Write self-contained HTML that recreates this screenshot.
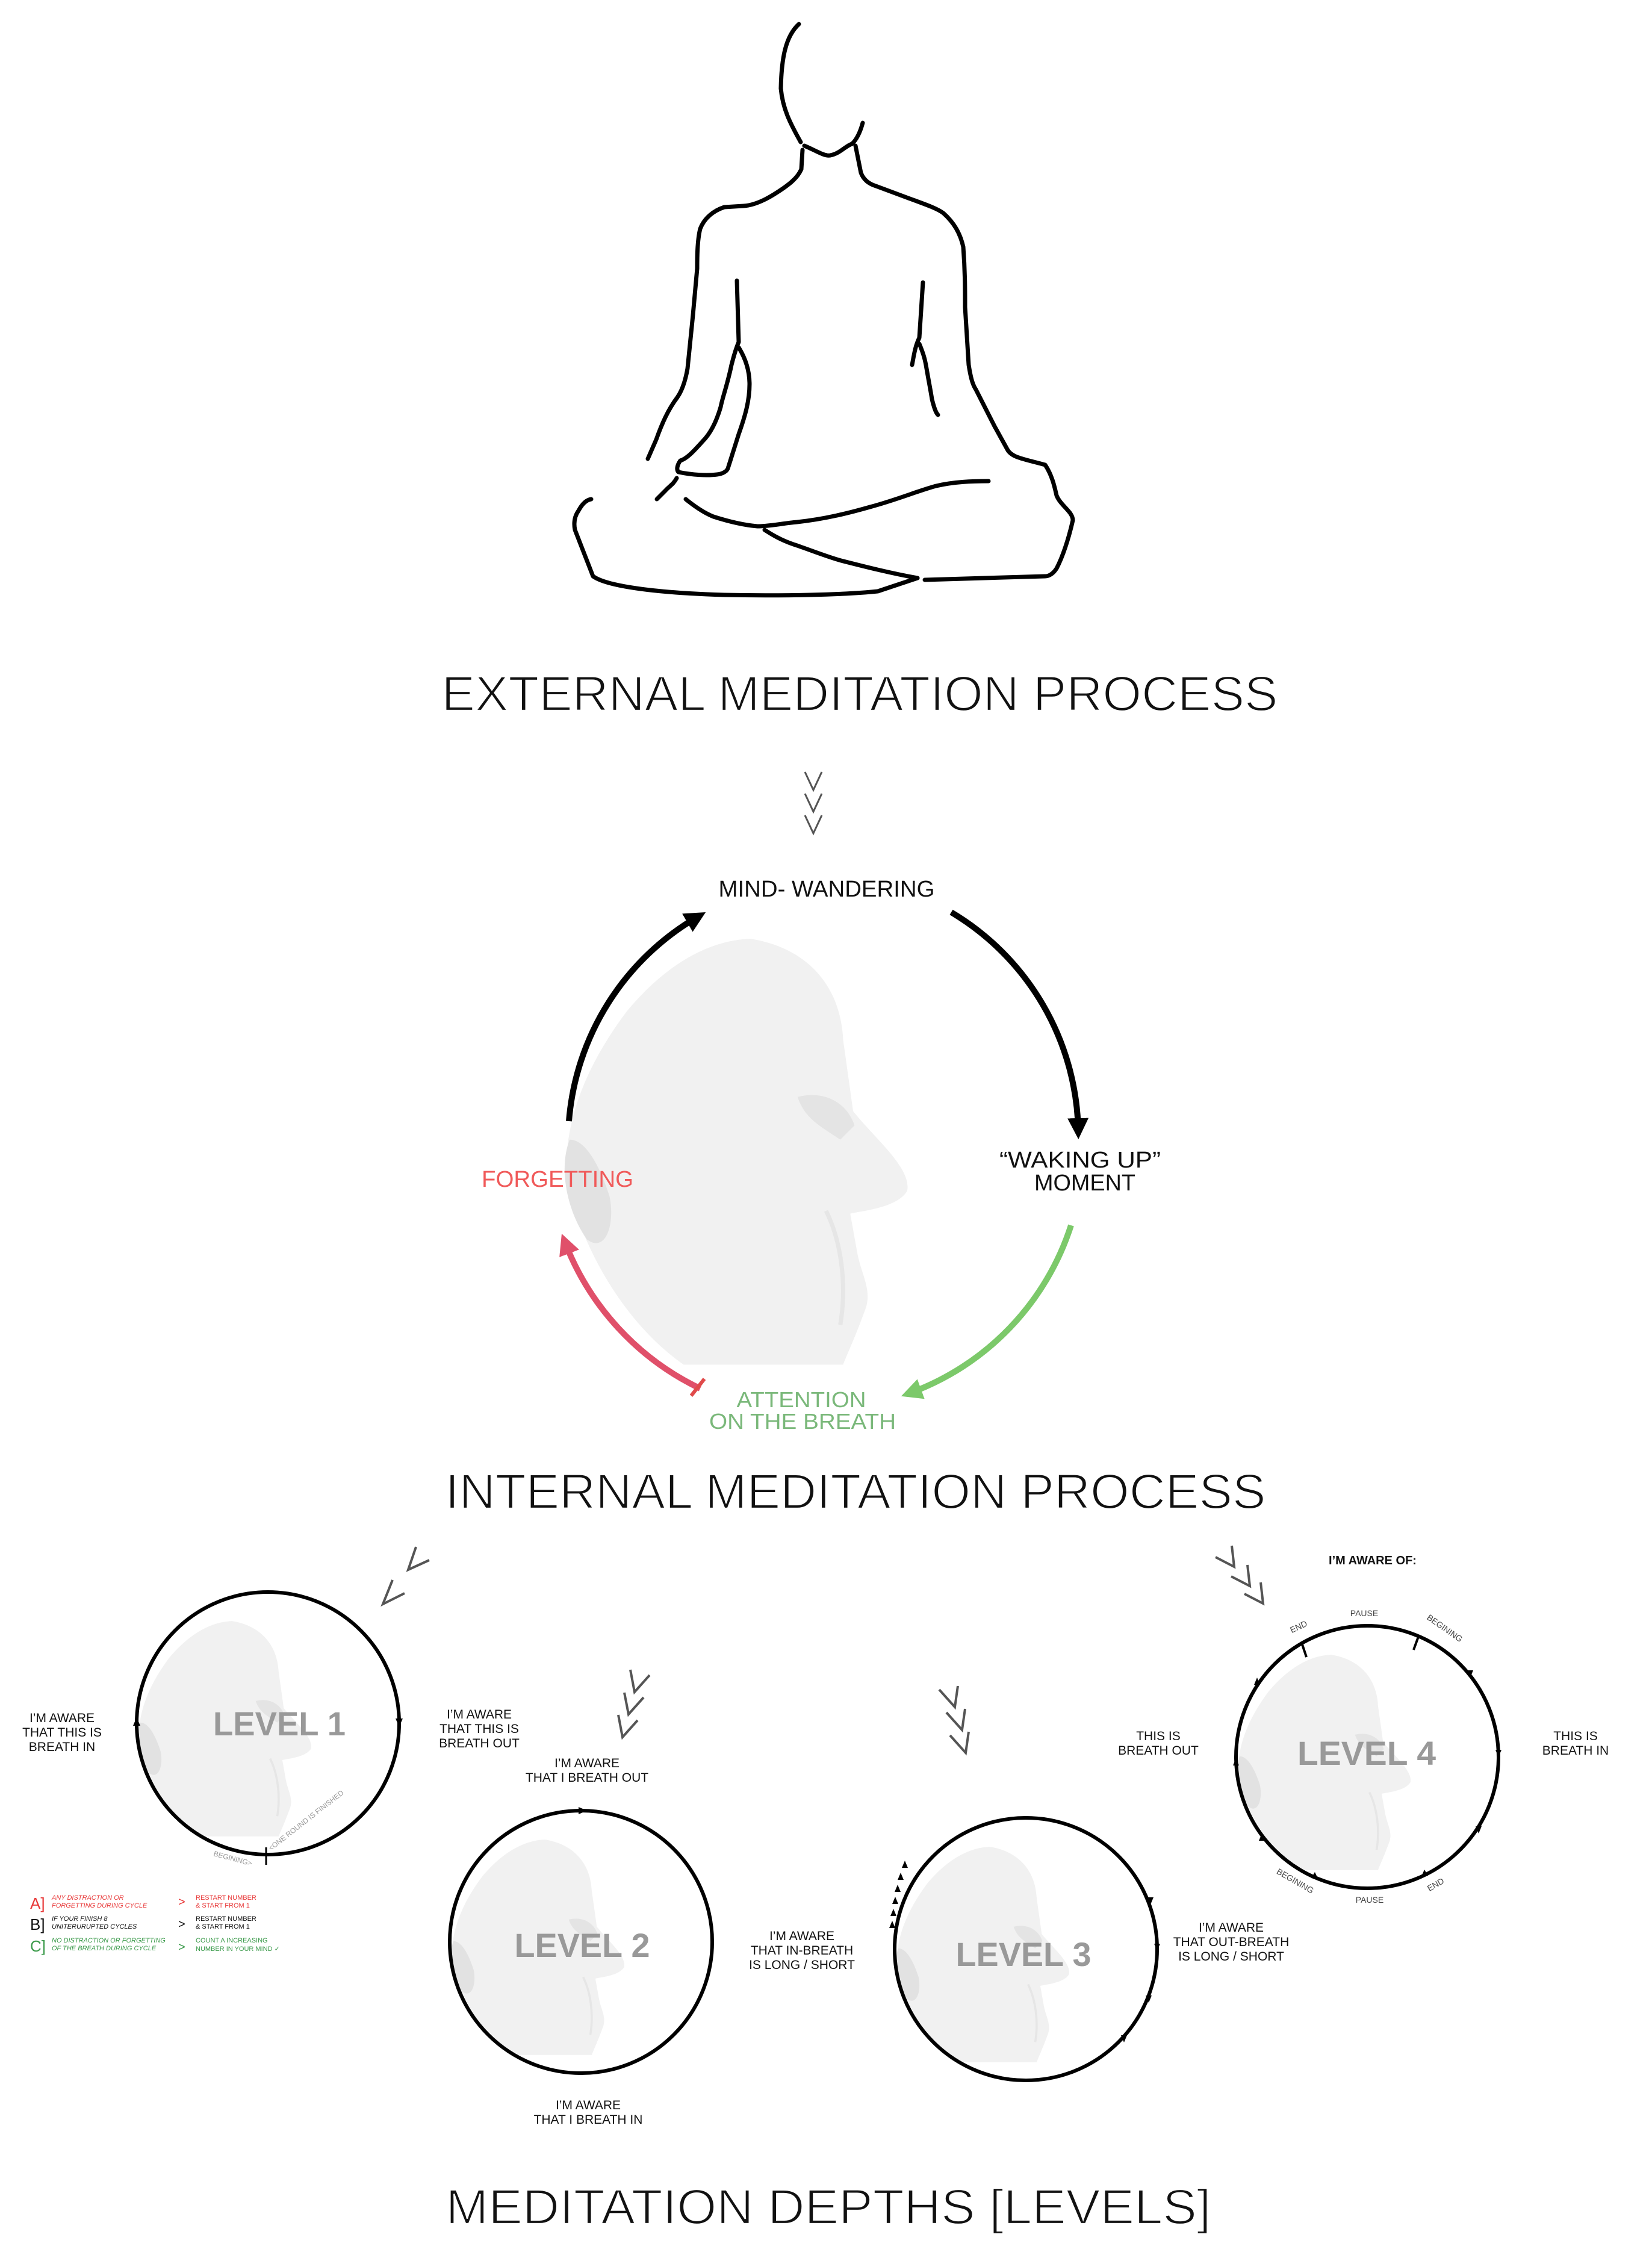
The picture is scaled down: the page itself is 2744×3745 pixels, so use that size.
<!DOCTYPE html>
<html><head><meta charset="utf-8"><style>
html,body{margin:0;padding:0;background:#fff}
svg{display:block}
text{font-family:"Liberation Sans","DejaVu Sans",sans-serif}
</style></head><body>
<svg width="2744" height="3745" viewBox="0 0 2744 3745" xmlns="http://www.w3.org/2000/svg">
<defs>
<g id="face">
<path d="M527,659 C565,665 590,690 592,730 L599,780 C615,800 640,820 637,836 C630,848 605,850 597,852 L602,880 C605,895 612,905 608,918 C600,940 595,950 592,958 L480,958 C440,930 410,880 398,830 C395,790 410,750 440,710 C465,680 495,660 527,659 Z" fill="#f1f1f1"/>
<path d="M400,800 C392,820 398,850 412,870 C425,880 432,860 428,840 C420,815 410,800 400,800Z" fill="#e2e2e2"/>
<path d="M560,770 C580,765 595,775 600,790 L590,800 C575,790 565,785 560,770Z" fill="#e4e4e4"/>
<path d="M580,850 C590,870 595,900 590,930" stroke="#e6e6e6" stroke-width="3" fill="none"/>
</g>
<clipPath id="c1"><circle cx="445" cy="2862" r="218"/></clipPath>
<clipPath id="c2"><circle cx="965" cy="3225" r="218"/></clipPath>
<clipPath id="c3"><circle cx="1704" cy="3237" r="218"/></clipPath>
<clipPath id="c4"><circle cx="2271" cy="2918" r="218"/></clipPath>
<marker id="ab" viewBox="0 0 10 10" refX="6" refY="5" markerWidth="3.5" markerHeight="3.5" orient="auto"><path d="M0,0 L10,5 L0,10 Z" fill="#000"/></marker>
<marker id="ag" viewBox="0 0 10 10" refX="6" refY="5" markerWidth="3.5" markerHeight="3.5" orient="auto"><path d="M0,0 L10,5 L0,10 Z" fill="#7cc96a"/></marker>
<marker id="ar" viewBox="0 0 10 10" refX="6" refY="5" markerWidth="3.5" markerHeight="3.5" orient="auto"><path d="M0,0 L10,5 L0,10 Z" fill="#e0506a"/></marker>
</defs>

<!-- Figure -->
<g fill="none" stroke="#000" stroke-width="7" stroke-linecap="round" stroke-linejoin="round">
<path d="M1327,40 C1305,60 1298,96 1297,147 C1300,180 1312,204 1330,236"/>
<path d="M1336,242 C1355,250 1370,260 1379,258 C1395,255 1405,242 1415,239 C1425,230 1430,215 1433,204"/>
<path d="M1333,249 L1331,281 C1325,295 1312,306 1290,320 C1270,333 1252,341 1235,342 L1203,344 C1185,350 1170,362 1163,380 C1158,400 1158,430 1158,446 L1151,523 L1142,612 C1138,635 1132,650 1125,660 C1110,680 1100,702 1090,730 L1076,762"/>
<path d="M1421,242 L1430,287 C1435,300 1445,306 1455,309 L1506,328 C1530,337 1555,345 1567,354 C1585,370 1595,388 1600,410 C1603,450 1603,480 1603,510 L1609,606 C1612,625 1615,638 1621,647 L1652,708 L1673,746 C1680,760 1700,762 1736,772 C1748,790 1752,810 1755,823 C1762,840 1782,850 1782,864 C1775,895 1765,925 1755,944 C1748,955 1740,957 1736,957 L1536,963"/>
<path d="M1524,960 L1458,982 C1400,988 1300,990 1203,988 C1100,985 1010,975 985,957 L955,880 C952,865 956,855 961,848 C968,835 975,830 982,829"/>
<path d="M1224,466 L1227,568 C1220,585 1218,595 1215,606 C1208,640 1200,660 1197,676 C1190,700 1180,720 1167,733 C1150,752 1140,762 1130,765 C1125,772 1123,780 1127,784 C1150,789 1175,790 1191,788 C1200,787 1207,783 1209,778 L1227,721 C1238,690 1245,665 1245,638 C1245,610 1235,590 1227,577"/>
<path d="M1124,794 C1118,805 1112,807 1105,815 L1091,829"/>
<path d="M1533,469 L1527,561 C1520,575 1518,590 1515,606"/>
<path d="M1527,571 C1535,590 1537,600 1539,612 C1543,635 1546,650 1548,663 C1551,675 1554,685 1558,689"/>
<path d="M1139,829 C1155,842 1170,852 1185,858 C1210,866 1235,872 1258,874 C1280,874 1300,869 1324,867 C1370,862 1410,852 1445,842 C1490,830 1525,815 1555,807 C1585,800 1615,799 1642,799"/>
<path d="M1270,880 C1290,893 1305,900 1324,906 C1350,915 1375,925 1397,931 C1440,942 1480,952 1524,960"/>
</g>

<g stroke="#fff" stroke-width="2.2" fill="#111">
<text x="1428" y="1180" font-size="82" textLength="1389" lengthAdjust="spacingAndGlyphs" text-anchor="middle">EXTERNAL MEDITATION PROCESS</text>
<text x="1421" y="2505" font-size="82" textLength="1363" lengthAdjust="spacingAndGlyphs" text-anchor="middle">INTERNAL MEDITATION PROCESS</text>
<text x="1376" y="3693" font-size="82" textLength="1271" lengthAdjust="spacingAndGlyphs" text-anchor="middle">MEDITATION DEPTHS [LEVELS]</text>
</g>

<!-- top chevrons -->
<g fill="none" stroke="#555" stroke-width="3">
<path d="M1337,1282 L1351,1312 L1365,1282"/>
<path d="M1337,1318 L1351,1348 L1365,1318"/>
<path d="M1337,1354 L1351,1384 L1365,1354"/>
</g>

<!-- center face -->
<g transform="translate(1365,1895) scale(2.3655) translate(-577,-801)"><use href="#face"/></g>

<!-- cycle arrows -->
<g fill="none" stroke-width="10">
<path d="M945,1862 A432,432 0 0 1 1160,1522" stroke="#000" marker-end="url(#ab)"/>
<path d="M1580,1515 A432,432 0 0 1 1791,1878" stroke="#000" marker-end="url(#ab)"/>
<path d="M1779,2035 A440,440 0 0 1 1510,2314" stroke="#7cc96a" marker-end="url(#ag)"/>
<path d="M1163,2306 A448,448 0 0 1 938,2062" stroke="#e0506a" marker-end="url(#ar)"/>
<path d="M1148,2318 L1170,2290" stroke="#e04a4a" stroke-width="6"/>
</g>
<text x="1373" y="1489" font-size="38" textLength="359" lengthAdjust="spacingAndGlyphs" text-anchor="middle" fill="#111">MIND- WANDERING</text>
<text x="1794" y="1939" font-size="38" textLength="268" lengthAdjust="spacingAndGlyphs" text-anchor="middle" fill="#111">“WAKING UP”</text>
<text x="1802" y="1977" font-size="38" textLength="168" lengthAdjust="spacingAndGlyphs" text-anchor="middle" fill="#111">MOMENT</text>
<text x="926" y="1971" font-size="38" textLength="252" lengthAdjust="spacingAndGlyphs" text-anchor="middle" fill="#f05a5a">FORGETTING</text>
<text x="1331" y="2337" font-size="36" textLength="215" lengthAdjust="spacingAndGlyphs" text-anchor="middle" fill="#7ab87a">ATTENTION</text>
<text x="1333" y="2373" font-size="36" textLength="310" lengthAdjust="spacingAndGlyphs" text-anchor="middle" fill="#7ab87a">ON THE BREATH</text>

<!-- level chevrons -->
<g fill="none" stroke="#555" stroke-width="4">
<path d="M691,2569 L678,2607 L713,2591"/>
<path d="M652,2624 L636,2664 L672,2646"/>
<path d="M1047,2773 L1054,2810 L1079,2782"/>
<path d="M1037,2811 L1044,2847 L1069,2819"/>
<path d="M1027,2848 L1034,2885 L1059,2857"/>
<path d="M1560,2806 L1586,2835 L1591,2800"/>
<path d="M1572,2844 L1598,2873 L1603,2838"/>
<path d="M1578,2882 L1604,2911 L1609,2876"/>
<path d="M2019,2586 L2050,2602 L2046,2567"/>
<path d="M2045,2618 L2076,2634 L2072,2599"/>
<path d="M2067,2647 L2098,2663 L2094,2628"/>
</g>

<!-- level faces -->
<g clip-path="url(#c1)"><g transform="translate(445,2862) scale(1.196) translate(-577,-801)"><use href="#face"/></g></g>
<g clip-path="url(#c2)"><g transform="translate(965,3225) scale(1.196) translate(-577,-801)"><use href="#face"/></g></g>
<g clip-path="url(#c3)"><g transform="translate(1704,3237) scale(1.196) translate(-577,-801)"><use href="#face"/></g></g>
<g clip-path="url(#c4)"><g transform="translate(2271,2918) scale(1.196) translate(-577,-801)"><use href="#face"/></g></g>

<g fill="none" stroke="#000" stroke-width="6">
<circle cx="445" cy="2862" r="218"/>
<circle cx="965" cy="3225" r="218"/>
<circle cx="1704" cy="3237" r="218"/>
<circle cx="2271" cy="2918" r="218"/>
<path d="M442,3068 L442,3097" stroke-width="3"/>
<path d="M2162,2728 L2170,2752" stroke-width="4"/>
<path d="M2348,2740 L2356,2718" stroke-width="4"/>
</g>
<!-- small arrowheads -->
<g fill="#000">
<path d="M227,2852 l-6,14 h12 Z"/>
<path d="M663,2868 l-6,-14 h12 Z"/>
<path d="M975,3007 l-14,-6 v12 Z"/>
<path d="M1482,3190 l-5,12 h10Z"/><path d="M1484,3170 l-5,12 h10Z"/><path d="M1487,3150 l-5,12 h10Z"/><path d="M1491,3130 l-5,12 h10Z"/><path d="M1496,3110 l-5,12 h10Z"/><path d="M1503,3090 l-5,12 h10Z"/>
<path d="M1911,3163 l-5,-12 h10Z"/><path d="M1922,3240 l-5,-12 h10Z"/><path d="M1908,3326 l-5,-12 h10Z"/><path d="M1867,3392 l-5,-12 h10Z"/>
<path d="M2053,2920 l-5,12 h10Z"/><path d="M2088,2786 l-5,12 h10Z"/><path d="M2096,3045 l-5,12 h10Z"/><path d="M2190,3122 l-12,-3 l6,-10Z"/>
<path d="M2489,2918 l-5,-12 h10Z"/><path d="M2442,2786 l-5,-12 h10Z"/><path d="M2456,3045 l-5,-12 h10Z"/><path d="M2360,3118 l12,-3 l-6,-10Z"/>
</g>

<g fill="#999" font-weight="bold" text-anchor="middle" font-size="56">
<text x="464" y="2882" textLength="220" lengthAdjust="spacingAndGlyphs">LEVEL 1</text>
<text x="967" y="3250" textLength="225" lengthAdjust="spacingAndGlyphs">LEVEL 2</text>
<text x="1700" y="3265" textLength="225" lengthAdjust="spacingAndGlyphs">LEVEL 3</text>
<text x="2270" y="2931" textLength="230" lengthAdjust="spacingAndGlyphs">LEVEL 4</text>
</g>

<g fill="#111" font-size="21" text-anchor="middle">
<text x="103" y="2860">I’M AWARE</text><text x="103" y="2884">THAT THIS IS</text><text x="103" y="2908">BREATH IN</text>
<text x="796" y="2854">I’M AWARE</text><text x="796" y="2878">THAT THIS IS</text><text x="796" y="2902">BREATH OUT</text>
<text x="975" y="2935">I’M AWARE</text><text x="975" y="2959">THAT I BREATH OUT</text>
<text x="977" y="3503">I’M AWARE</text><text x="977" y="3527">THAT I BREATH IN</text>
<text x="1332" y="3222">I’M AWARE</text><text x="1332" y="3246">THAT IN-BREATH</text><text x="1332" y="3270">IS LONG / SHORT</text>
<text x="2045" y="3208">I’M AWARE</text><text x="2045" y="3232">THAT OUT-BREATH</text><text x="2045" y="3256">IS LONG / SHORT</text>
<text x="1924" y="2890">THIS IS</text><text x="1924" y="2914">BREATH OUT</text>
<text x="2617" y="2890">THIS IS</text><text x="2617" y="2914">BREATH IN</text>
<text x="2280" y="2598" font-weight="bold" font-size="20">I’M AWARE OF:</text>
</g>
<g fill="#444" font-size="14" text-anchor="middle">
<text x="2159" y="2706" transform="rotate(-25 2159 2706)">END</text>
<text x="2266" y="2684">PAUSE</text>
<text x="2397" y="2708" transform="rotate(35 2397 2708)">BEGINING</text>
<text x="2149" y="3128" transform="rotate(30 2149 3128)">BEGINING</text>
<text x="2275" y="3160">PAUSE</text>
<text x="2387" y="3134" transform="rotate(-30 2387 3134)">END</text>
</g>
<g fill="#999" font-size="12">
<text x="354" y="3082" transform="rotate(15 354 3082)">BEGINING&gt;</text>
<text x="450" y="3074" transform="rotate(-38 450 3074)">&lt;ONE ROUND IS FINISHED</text>
</g>

<!-- legend -->
<g font-size="11" font-style="italic">
<text x="50" y="3170" font-size="26" font-style="normal" fill="#e83a3a">A]</text>
<text x="86" y="3155" fill="#e83a3a">ANY DISTRACTION OR</text><text x="86" y="3168" fill="#e83a3a">FORGETTING DURING CYCLE</text>
<text x="296" y="3165" font-size="20" font-style="normal" fill="#e83a3a">&gt;</text>
<text x="325" y="3155" font-style="normal" fill="#e83a3a">RESTART NUMBER</text><text x="325" y="3168" font-style="normal" fill="#e83a3a">&amp; START FROM 1</text>
<text x="50" y="3205" font-size="26" font-style="normal" fill="#111">B]</text>
<text x="86" y="3190" fill="#111">IF YOUR FINISH 8</text><text x="86" y="3203" fill="#111">UNITERURUPTED CYCLES</text>
<text x="296" y="3202" font-size="20" font-style="normal" fill="#111">&gt;</text>
<text x="325" y="3190" font-style="normal" fill="#111">RESTART NUMBER</text><text x="325" y="3203" font-style="normal" fill="#111">&amp; START FROM 1</text>
<text x="50" y="3241" font-size="26" font-style="normal" fill="#3a9a4a">C]</text>
<text x="86" y="3226" fill="#3a9a4a">NO DISTRACTION OR FORGETTING</text><text x="86" y="3239" fill="#3a9a4a">OF THE BREATH DURING CYCLE</text>
<text x="296" y="3240" font-size="20" font-style="normal" fill="#3a9a4a">&gt;</text>
<text x="325" y="3226" font-style="normal" fill="#3a9a4a">COUNT A INCREASING</text><text x="325" y="3240" font-style="normal" fill="#3a9a4a">NUMBER IN YOUR MIND  ✓</text>
</g>
</svg>
</body></html>
